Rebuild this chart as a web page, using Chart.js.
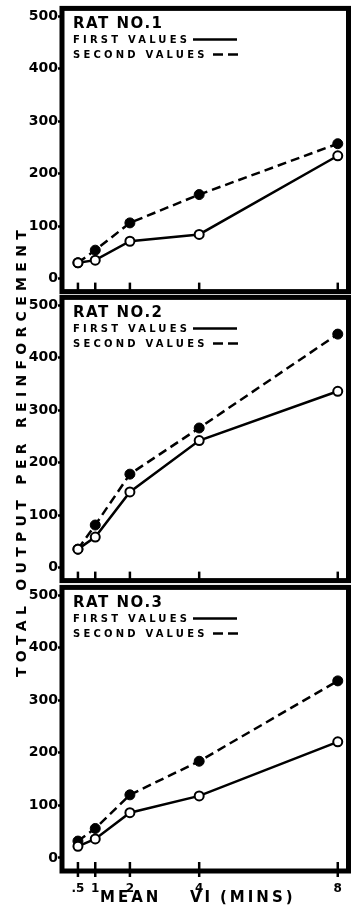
<!DOCTYPE html>
<html>
<head>
<meta charset="utf-8">
<script src="https://cdn.jsdelivr.net/npm/chart.js@4.4.0/dist/chart.umd.min.js"></script>
<style>
  body { margin: 0; background: #fff; }
  #wrap { position: relative; width: 355px; height: 907px; background: #fff; overflow: hidden; }
  #wrap canvas { position: absolute; left: 0; }
  #ytitle {
    position: absolute; left: 21px; top: 451px;
    transform: translate(-50%, -50%) rotate(-90deg);
    font: bold 14px "DejaVu Sans", sans-serif;
    letter-spacing: 5.3px; white-space: nowrap; color: #000;
  }
</style>
</head>
<body>
<div id="wrap">
  <canvas id="rat1" width="355" height="300" style="top:0px"></canvas>
  <canvas id="rat2" width="355" height="300" style="top:289px"></canvas>
  <canvas id="rat3" width="355" height="328" style="top:579px"></canvas>
  <div id="ytitle">TOTAL OUTPUT PER REINFORCEMENT</div>
</div>
<script>
// mean VI schedule in minutes, and the y ticks shared by every panel
const viMins = [0.5, 1, 2, 4, 8];
const xTickLabels = ['.5', '1', '2', '4', '8'];
const yTicks = [0, 100, 200, 300, 400, 500];

const ratNames = ['RAT NO.1', 'RAT NO.2', 'RAT NO.3'];
const seriesNames = ['FIRST VALUES', 'SECOND VALUES'];

// total output per reinforcement
const rat1First = [30, 35, 71, 84, 234];
const rat1Second = [30, 54, 106, 160, 257];
const rat2First = [35, 58, 144, 242, 336];
const rat2Second = [35, 81, 178, 266, 445];
const rat3First = [22, 36, 86, 118, 221];
const rat3Second = [32, 56, 120, 184, 337];

const FONT = '"DejaVu Sans", sans-serif';
const PLOT_H = 288;

function toPoints(vals) {
  return viMins.map((x, i) => ({ x: x, y: vals[i] }));
}

// frame, inner x ticks, panel heading and the little key
const panelDecor = {
  id: 'panelDecor',
  afterDraw(chart, args, opts) {
    const ctx = chart.ctx;
    const a = chart.chartArea;
    const xs = chart.scales.x;
    ctx.save();
    ctx.strokeStyle = '#000';
    ctx.fillStyle = '#000';

    ctx.lineWidth = 5;
    ctx.strokeRect(a.left, a.top, a.right - a.left, a.bottom - a.top);

    ctx.lineWidth = 2.5;
    viMins.forEach(v => {
      const px = xs.getPixelForValue(v);
      ctx.beginPath();
      ctx.moveTo(px, a.bottom - 9);
      ctx.lineTo(px, a.bottom + (opts.showX ? 6 : 0));
      ctx.stroke();
    });

    ctx.textAlign = 'left';
    ctx.textBaseline = 'alphabetic';
    ctx.font = 'bold 15px ' + FONT;
    ctx.letterSpacing = '1.5px';
    ctx.fillText(opts.name, a.left + 11, a.top + 20);

    ctx.font = 'bold 10px ' + FONT;
    ctx.letterSpacing = '3.2px';
    ctx.fillText(seriesNames[0], a.left + 11, a.top + 35);
    ctx.fillText(seriesNames[1], a.left + 11, a.top + 50);

    // solid key runs after FIRST VALUES, the two dashes after SECOND VALUES
    ctx.lineWidth = 2.5;
    ctx.beginPath();
    ctx.moveTo(a.left + 131, a.top + 31);
    ctx.lineTo(a.left + 175, a.top + 31);
    ctx.stroke();
    ctx.setLineDash([10, 5]);
    ctx.beginPath();
    ctx.moveTo(a.left + 151, a.top + 46);
    ctx.lineTo(a.left + 176, a.top + 46);
    ctx.stroke();
    ctx.setLineDash([]);

    if (opts.showX) {
      ctx.font = 'bold 15px ' + FONT;
      ctx.letterSpacing = '3px';
      ctx.fillText('MEAN', 100, a.bottom + 31);
      ctx.fillText('VI', 190, a.bottom + 31);
      ctx.fillText('(MINS)', 220, a.bottom + 31);
    }
    ctx.restore();
  }
};

function makePanel(id, name, first, second, showX) {
  const canvas = document.getElementById(id);
  const xHeight = canvas.height - 4 - PLOT_H;
  return new Chart(canvas, {
    type: 'line',
    data: {
      datasets: [
        {
          label: seriesNames[0],
          data: toPoints(first),
          borderColor: '#000',
          borderWidth: 2.5,
          pointRadius: 4.5,
          pointBorderWidth: 2,
          pointBackgroundColor: '#fff',
          pointBorderColor: '#000',
          order: 0
        },
        {
          label: seriesNames[1],
          data: toPoints(second),
          borderColor: '#000',
          borderWidth: 2.5,
          borderDash: [9, 5],
          pointRadius: 5,
          pointBorderWidth: 1,
          pointBackgroundColor: '#000',
          pointBorderColor: '#000',
          order: 1
        }
      ]
    },
    options: {
      responsive: false,
      animation: false,
      layout: { padding: { top: 4, right: 3, left: 0, bottom: 0 } },
      plugins: {
        legend: { display: false },
        tooltip: { enabled: false },
        panelDecor: { name: name, showX: showX }
      },
      scales: {
        x: {
          type: 'linear',
          min: 0.04,
          max: 8.31,
          afterBuildTicks: s => { s.ticks = viMins.map(v => ({ value: v })); },
          afterFit: s => { s.height = xHeight; },
          ticks: {
            display: showX,
            autoSkip: false,
            maxRotation: 0,
            padding: 3,
            color: '#000',
            font: { family: FONT, weight: 'bold', size: 12 },
            callback: v => xTickLabels[viMins.indexOf(v)]
          },
          grid: { display: false },
          border: { display: false }
        },
        y: {
          min: -25,
          max: 515,
          afterBuildTicks: s => { s.ticks = yTicks.map(v => ({ value: v })); },
          afterFit: s => { s.width = 62; },
          ticks: {
            padding: 0,
            color: '#000',
            font: { family: FONT, weight: 'bold', size: 14 }
          },
          grid: {
            drawOnChartArea: false,
            drawTicks: true,
            tickLength: 4,
            tickWidth: 2.5,
            tickColor: '#000'
          },
          border: { display: false }
        }
      }
    },
    plugins: [panelDecor]
  });
}

makePanel('rat1', ratNames[0], rat1First, rat1Second, false);
makePanel('rat2', ratNames[1], rat2First, rat2Second, false);
makePanel('rat3', ratNames[2], rat3First, rat3Second, true);
</script>
</body>
</html>
